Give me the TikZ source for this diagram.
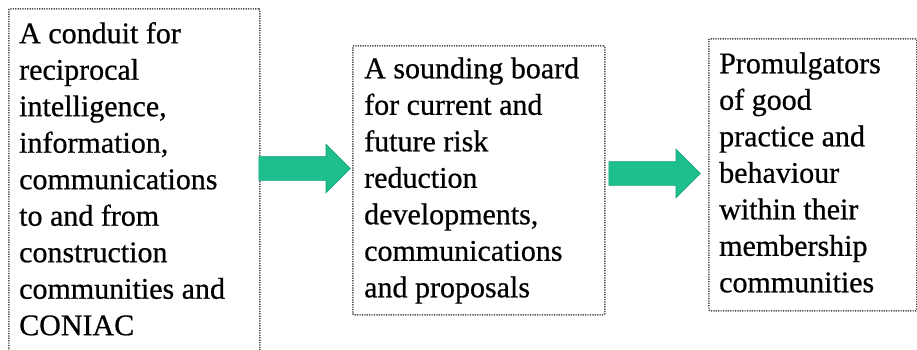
\documentclass[tikz,border=0pt]{standalone}
\usepackage{fontspec}
\setmainfont{Liberation Serif}[BoldFont=Liberation Serif, BoldFeatures={FakeBold=0.6}]
\usetikzlibrary{shapes.arrows,calc}
\definecolor{arrowfill}{HTML}{1DBF8E}
\definecolor{arrowline}{HTML}{14A077}
\definecolor{boxline}{HTML}{4A4A4A}
\tikzset{
  panel/.style={draw=boxline, line width=1.5pt, dash pattern=on 1.2pt off 1.2pt,
    inner sep=0pt, anchor=north west, rounded corners=1pt},
  paneltext/.style={anchor=north west, inner sep=0pt, align=left,
    font=\fontsize{30}{36.5}\selectfont\bfseries},
  flow/.style={single arrow, fill=arrowfill, draw=arrowline, line width=0.6pt,
    inner sep=0pt, single arrow head extend=12.5pt, single arrow tip angle=90,
    minimum width=48pt, text height=23pt, text depth=0pt, text width=0pt,
    anchor=tail}
}
\begin{document}
\begin{tikzpicture}[x=1pt, y=-1pt]
  \useasboundingbox (0,0) rectangle (917,349);
  \fill[white] (0,0) rectangle (917,349);
  \clip (0,0) rectangle (917,349);

  % three panels
  \node[panel, minimum width=251pt, minimum height=346pt] (b1) at (8,8) {};
  \node[panel, minimum width=252pt, minimum height=269pt] (b2) at (352,45) {};
  \node[panel, minimum width=208pt, minimum height=272pt] (b3) at (708,38) {};

  % panel texts
  \node[paneltext] (t1) at (19,17.45) {\strut A conduit for\\ \strut reciprocal\\
    \strut intelligence,\\ \strut information,\\ \strut communications\\
    \strut to and from\\ \strut construction\\ \strut communities and\\ \strut CONIAC};
  \node[paneltext] (t2) at (364,52.5) {\strut A sounding board\\ \strut for current and\\
    \strut future risk\\ \strut reduction\\ \strut developments,\\
    \strut communications\\ \strut and proposals};
  \node[paneltext] (t3) at (719,47.5) {\strut Promulgators\\ \strut of good\\
    \strut practice and\\ \strut behaviour\\ \strut within their\\
    \strut membership\\ \strut communities};

  % block arrows between panels
  \coordinate (a1tail) at (b1.east |- 0,168.5);
  \coordinate (a1tip) at (b2.west |- 0,168.5);
  \coordinate (a2tail) at ([xshift=3pt]b2.east |- 0,173.5);
  \coordinate (a2tip) at ([xshift=-8pt]b3.west |- 0,173.5);
  \path let \p1=($(a1tip)-(a1tail)$) in
    node[flow, minimum height=\x1] (a1) at ([xshift=-2pt]a1tail) {};
  \path let \p1=($(a2tip)-(a2tail)$) in
    node[flow, minimum height=\x1] (a2) at (a2tail) {};
\end{tikzpicture}
\end{document}
